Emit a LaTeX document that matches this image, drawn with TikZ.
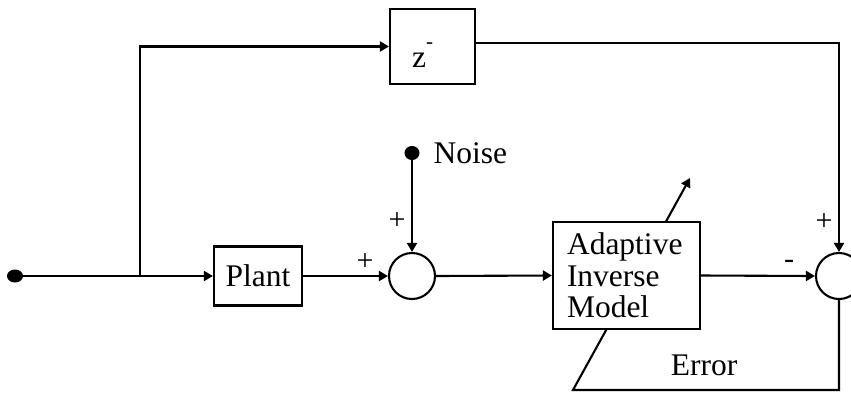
\documentclass[tikz,border=0pt]{standalone}
\usepackage{fontspec}
\setmainfont{Liberation Serif}
\usetikzlibrary{arrows.meta,positioning,shapes.geometric,backgrounds}

\begin{document}
\begin{tikzpicture}[
      x=1pt, y=-1pt,
      >={Triangle[length=9pt,width=10pt]},
      every node/.style={font=\fontsize{31.5}{31.5}\selectfont, inner sep=0pt},
      block/.style={rectangle, draw, line width=2.2pt, fill=white},
      sum/.style={circle, draw, line width=2.1pt, fill=white, minimum size=46pt},
      dot/.style={ellipse, fill=black, draw, line width=1pt},
      sign/.style={font=\fontsize{30}{30}\selectfont},
      line/.style={->, line width=2.1pt}
]
\useasboundingbox (0,0) rectangle (851,392);

% blocks
\node[dot, minimum width=15pt, minimum height=12pt] (in) at (15,276) {};
\node[block, minimum width=88pt, minimum height=59pt] (plant) at (258,276) {Plant};
\node[sum] (sum1) at (412,276) {};
\node[dot, minimum width=14pt, minimum height=13pt] (noise) at (412,153) {};
\node[right=14pt of noise] (noisetxt) {Noise};
\node[block, minimum width=147pt, minimum height=107pt, text width=119pt,
      align=left] (adapt) at (626.5,275.5) {Adaptive\\ Inverse\\ Model};
\node[sum] (sum2) at (839,276) {};
\node[block, minimum width=85pt, minimum height=75pt] (delay) at (432.5,46.5) {};
\node[anchor=base west] (delaytxt) at (412,67)
      {z\raisebox{19pt}{\fontsize{21}{21}\selectfont -}};

\coordinate (split) at (140,276);
\coordinate (topright) at (839,43);
\coordinate (errcorner) at (573,390);
\coordinate (adapttip) at (690,178);

% signs
\node[sign] (p1) at (397,221) {+};
\node[sign] (p2) at (365,262) {+};
\node[sign] (m3) at (789,264) {-};
\node[sign] (p4) at (824,222) {+};
\node[anchor=base] (errtxt) at (704,375) {Error};

% connectors
\draw[line] (in) -- (plant.west);
\draw[line] (split) |- (delay.west);
\draw[line] (delay.east |- topright) -- (topright) -- (sum2.north);
\draw[line] (plant.east) -- (sum1.west);
\draw[line] (noise) -- (sum1.north);
\draw[line] (sum1.east) -- (adapt.west);
\draw[line] (adapt.east) -- (sum2.west);
\begin{scope}[on background layer]
\draw[line] (sum2.south) |- (errcorner) -- (adapttip);
\end{scope}
\end{tikzpicture}
\end{document}
